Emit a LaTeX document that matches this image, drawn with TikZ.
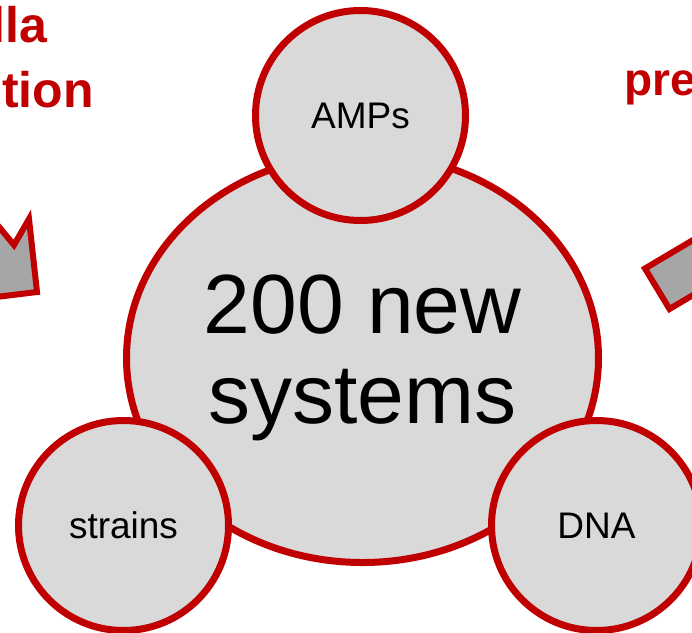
\documentclass[tikz,border=0pt]{standalone}
\usepackage{fontspec}
\setmainfont{Liberation Sans}
\usetikzlibrary{shapes.geometric}
\definecolor{slidered}{HTML}{C00000}
\definecolor{discgrey}{HTML}{D9D9D9}
\definecolor{arrowgrey}{HTML}{A6A6A6}
\begin{document}
\begin{tikzpicture}[x=1pt,y=-1pt,
  disc/.style={draw=slidered,fill=discgrey,line width=7pt,circle,inner sep=0pt,
    minimum size=210pt,font=\fontsize{37}{40}\selectfont},
  bigdisc/.style={draw=slidered,fill=discgrey,line width=7pt,ellipse,inner sep=0pt,
    minimum width=472pt,minimum height=409pt,align=center,font=\fontsize{84}{90}\selectfont},
  redtitle/.style={text=slidered,inner sep=0pt,font=\bfseries\fontsize{50}{60}\selectfont},
  arrowshape/.style={draw=slidered,fill=arrowgrey,line width=6pt,line join=miter}]
\useasboundingbox (0,0) rectangle (692,632);
\clip (0,0) rectangle (692,632);
% partial arrows at the sides
\draw[arrowshape] (-20,204) -- (14,245) -- (29,219) -- (37,292) -- (-12,298) -- cycle;
\draw[arrowshape] (720,224) -- (645,268.5) -- (669.5,309) -- (720,279) -- cycle;
% partial red titles
\node[redtitle,anchor=base east] (tl1) at (47,42) {lla};
\node[redtitle,anchor=base east] (tl2) at (94,107) {tion};
\node[redtitle,anchor=base west,font=\bfseries\fontsize{46}{55}\selectfont] (tr1) at (624,95) {pre};
% central disc and satellites
\node[bigdisc] (core) at (362.5,358) {200 new\\systems};
\node[disc] (amps) at (360.5,115.5) {AMPs};
\node[disc] (strains) at (123.5,525.5) {strains};
\node[disc] (dna) at (596.5,525.5) {DNA};
\end{tikzpicture}
\end{document}
